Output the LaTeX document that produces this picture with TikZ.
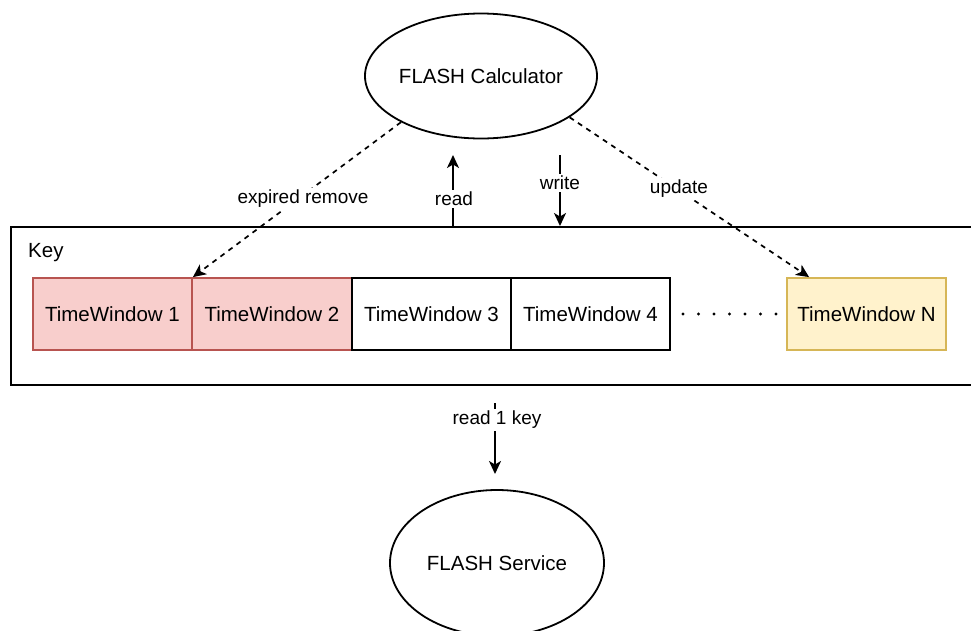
\documentclass[tikz,border=0pt]{standalone}
\usepackage{fontspec}
\setmainfont{Liberation Sans}
\usetikzlibrary{shapes.geometric,arrows.meta,calc}
\definecolor{redfill}{HTML}{F8CECC}
\definecolor{redline}{HTML}{B85450}
\definecolor{yelfill}{HTML}{FFF2CC}
\definecolor{yelline}{HTML}{D6B656}
\begin{document}
\begin{tikzpicture}[x=1pt,y=-1pt,
  txt/.style={font=\fontsize{20.5}{24}\selectfont, inner sep=0pt},
  lbl/.style={font=\fontsize{19}{22}\selectfont, fill=white, inner sep=2pt},
  ell/.style={ellipse, draw, line width=1.8pt, txt},
  win/.style={rectangle, draw, line width=1.8pt, minimum width=159pt, minimum height=72pt, txt},
  redwin/.style={win, fill=redfill, draw=redline},
  yelwin/.style={win, fill=yelfill, draw=yelline},
  tip/.style={-{Stealth[length=13pt,width=12pt,inset=3.5pt]}},
  conn/.style={tip, line width=1.7pt},
  dconn/.style={conn, dash pattern=on 5pt off 5pt}]
\useasboundingbox (0,0) rectangle (971,630);
\clip (0,0) rectangle (971,630);
\fill[white] (0,0) rectangle (971,630);

% processes
\node[ell, minimum width=230pt, minimum height=125pt] (calc) at (481,76) {FLASH Calculator};
\node[ell, minimum width=214pt, minimum height=146pt] (svc) at (497,563) {FLASH Service};

% key container
\node[draw, line width=1.8pt, minimum width=975pt, minimum height=158pt, anchor=north west] (key) at (10,226) {};
\node[txt, anchor=west] (keylbl) at (28,253) {Key};

% time windows
\node[redwin] (tw1) at (112.5,314) {TimeWindow 1};
\node[redwin] (tw2) at (272,314) {TimeWindow 2};
\node[win] (tw3) at (431.5,314) {TimeWindow 3};
\node[win] (tw4) at (590.5,314) {TimeWindow 4};
\node[yelwin] (twN) at (866.5,314) {TimeWindow N};
\draw[line width=3.2pt, line cap=round, dash pattern=on 0pt off 15.5pt] ($(tw4.east)+(12,0)$) -- (twN.west);

% access coordinates
\coordinate (rd0) at (453,226);
\coordinate (rd1) at (453,155);
\coordinate (wr0) at (560,155);
\coordinate (wr1) at (560,226);
\coordinate (rk0) at (495,403);
\coordinate (rk1) at (495,474);
\coordinate (upd) at ($(twN.north west)+(23,0)$);

% connectors
\draw[dconn] (calc.-150) -- (tw1.north east);
\draw[dconn] (calc.-25) -- (upd);
\draw[conn] (rd0) -- (rd1);
\draw[conn] (wr0) -- (wr1);
\draw[conn] (rk0) -- (rk1);

% connector labels
\node[lbl] (lexp) at (303,199) {expired remove};
\node[lbl] (lrd) at (454,199) {read};
\node[lbl] (lwr) at (560,183) {write};
\node[lbl] (lupd) at (679,189) {update};
\node[lbl] (lrk) at (497,420) {read 1 key};
\end{tikzpicture}
\end{document}
